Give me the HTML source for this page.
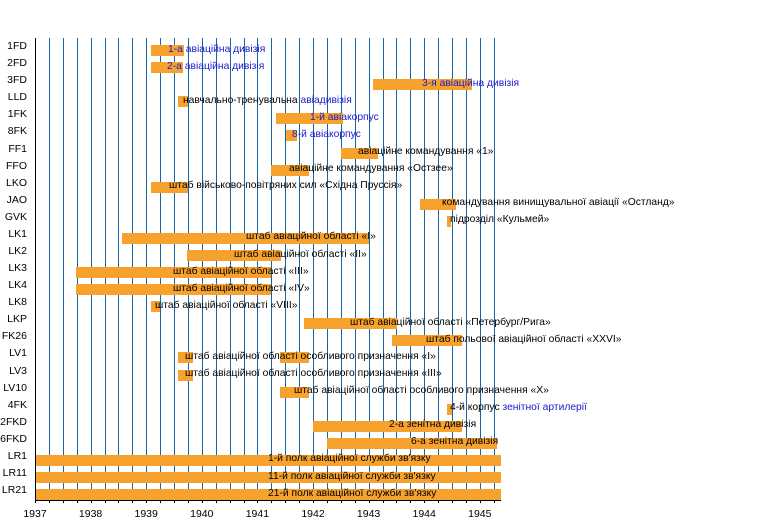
<!DOCTYPE html>
<html><head><meta charset="utf-8"><style>
body{margin:0;background:#fff;width:770px;height:520px;position:relative;overflow:hidden;font-family:"Liberation Sans",Arial,sans-serif;}
.g{position:absolute;top:38px;height:462px;width:1px;background:#1565a8;z-index:0;}
.b{position:absolute;height:11px;background:#f8a22e;z-index:1;}
.t{position:absolute;font-size:10.3px;line-height:12px;white-space:nowrap;color:#000;z-index:2;}
.l{position:absolute;left:0;width:27px;text-align:right;font-size:10.5px;line-height:12px;color:#000;}
.bl{color:#1a1acc;}
.y{position:absolute;top:508px;font-size:10.5px;width:40px;text-align:center;}
</style></head><body>
<div id="grid"></div>
<div id="c"></div>
<div style="position:absolute;left:35px;top:38px;width:1px;height:463px;background:#000;z-index:3"></div>
<div style="position:absolute;left:35px;top:500px;width:466px;height:1px;background:#000;z-index:3"></div>
<script>
var g='';for(var k=1;k<=33;k++){g+='<div class="g" style="left:'+(35+k*13.9).toFixed(1)+'px"></div>';}
for(var k=0;k<=33;k++){g+='<div style="position:absolute;top:500px;width:1px;height:3px;background:#000;left:'+(35+k*13.9).toFixed(1)+'px"></div>';}
var yrs=[1937,1938,1939,1940,1941,1942,1943,1944,1945];
yrs.forEach(function(y,i){g+='<div class="y" style="left:'+(35+i*55.6-20)+'px">'+y+'</div>';});
document.getElementById('grid').innerHTML=g;
var rows=[
['1FD',[[151,184]],168,'<span class="bl">1-а авіаційна дивізія</span>'],
['2FD',[[151,183]],167,'<span class="bl">2-а авіаційна дивізія</span>'],
['3FD',[[373,472]],422,'<span class="bl">3-я авіаційна дивізія</span>'],
['LLD',[[178,188]],183,'навчально-тренувальна <span class="bl">авіадивізія</span>'],
['1FK',[[276,343]],310,'<span class="bl">1-й авіакорпус</span>'],
['8FK',[[286,297]],292,'<span class="bl">8-й авіакорпус</span>'],
['FF1',[[341,378]],358,'авіаційне командування «1»'],
['FFO',[[271,309]],289,'авіаційне командування «Остзее»'],
['LKO',[[151,188]],169,'штаб військово-повітряних сил «Східна Пруссія»'],
['JAO',[[420,456]],442,'командування винищувальної авіації «Остланд»'],
['GVK',[[447,451]],450,'підрозділ «Кульмей»'],
['LK1',[[122,369]],246,'штаб авіаційної області «I»'],
['LK2',[[187,281]],234,'штаб авіаційної області «II»'],
['LK3',[[76,271]],173,'штаб авіаційної області «III»'],
['LK4',[[76,271]],173,'штаб авіаційної області «IV»'],
['LK8',[[151,160]],155,'штаб авіаційної області «VIII»'],
['LKP',[[304,397]],350,'штаб авіаційної області «Петербург/Рига»'],
['FK26',[[392,462]],426,'штаб польової авіаційної області «XXVI»'],
['LV1',[[178,193],[280,309]],185,'штаб авіаційної області особливого призначення «I»'],
['LV3',[[178,193]],185,'штаб авіаційної області особливого призначення «III»'],
['LV10',[[280,309]],294,'штаб авіаційної області особливого призначення «X»'],
['4FK',[[447,452]],450,'4-й корпус <span class="bl">зенітної артилерії</span>'],
['2FKD',[[313,462]],389,'2-а зенітна дивізія'],
['6FKD',[[327,497]],411,'6-а зенітна дивізія'],
['LR1',[[35,501]],268,'1-й полк авіаційної служби зв\'язку'],
['LR11',[[35,501]],268,'11-й полк авіаційної служби зв\'язку'],
['LR21',[[35,501]],268,'21-й полк авіаційної служби зв\'язку']];
var h='';
rows.forEach(function(r,i){var c=46+17.08*i;
h+='<div class="l" style="top:'+(c-6).toFixed(1)+'px">'+r[0]+'</div>';
r[1].forEach(function(b){h+='<div class="b" style="left:'+b[0]+'px;width:'+(b[1]-b[0])+'px;top:'+(c-1).toFixed(1)+'px"></div>';});
h+='<div class="t" style="left:'+r[2]+'px;top:'+(c-2.5).toFixed(1)+'px">'+r[3]+'</div>';});
document.getElementById('c').innerHTML=h;
</script>
</body></html>
